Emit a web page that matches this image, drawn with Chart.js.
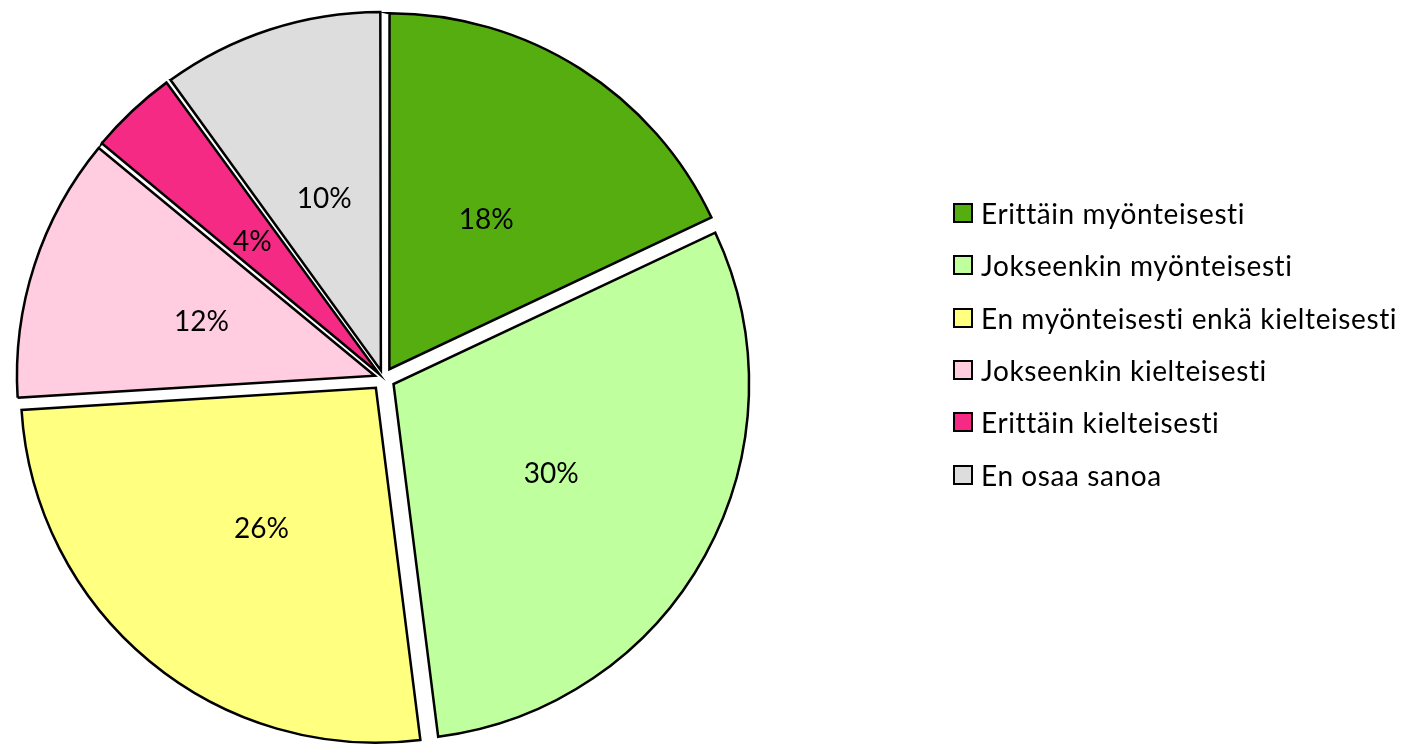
<!DOCTYPE html>
<html>
<head>
<meta charset="utf-8">
<script src="https://cdn.jsdelivr.net/npm/chart.js@4/dist/chart.umd.min.js"></script>
<style>
  html, body { margin: 0; padding: 0; background: #fff; }
  #wrap { position: relative; width: 1405px; height: 748px; overflow: hidden; }
  #c { position: absolute; left: 0; top: 0; }
  #legend { position: absolute; left: 953px; top: 0; font-family: Lato, "Noto Sans", sans-serif; font-size: 28px; letter-spacing: 0.6px; color: #000; }
  .row { position: absolute; left: 0; display: flex; align-items: center; white-space: nowrap; height: 30px; }
  .box { width: 20px; height: 20px; box-sizing: border-box; border: 2px solid #000; margin-right: 8px; flex: none; }
</style>
</head>
<body>
<div id="wrap">
  <canvas id="c" width="1405" height="748"></canvas>
  <div id="legend"></div>
</div>
<script>
// ---- data ----
const categories = [
  "Erittäin myönteisesti",
  "Jokseenkin myönteisesti",
  "En myönteisesti enkä kielteisesti",
  "Jokseenkin kielteisesti",
  "Erittäin kielteisesti",
  "En osaa sanoa"
];
const values = [18, 30, 26, 12, 4, 10];
const valueLabels = ["18%", "30%", "26%", "12%", "4%", "10%"];
const colors = ["#56AD0F", "#C0FF9D", "#FFFF80", "#FFCCE0", "#F42A84", "#DDDDDD"];

// ---- layout constants ----
const EXPLODE = 12;      // px each slice is pulled out
const RADIUS = 355;
const FONT = "Lato, 'Noto Sans', sans-serif";

// Chart.js translates an arc by offset/4*(1+fix); compensate so every slice moves EXPLODE px
function offsetFor(ctx) {
  const total = values.reduce((a, b) => a + b, 0);
  const v = ctx.dataset.data[ctx.dataIndex];
  const circ = (v / total) * Math.PI * 2;
  const fix = 1 - Math.sin(Math.min(Math.PI, circ));
  return EXPLODE * 4 / (1 + fix);
}

const labelPlugin = {
  id: 'sliceLabels',
  afterDatasetsDraw(chart) {
    const ctx = chart.ctx;
    const meta = chart.getDatasetMeta(0);
    ctx.save();
    ctx.font = "28px " + FONT;
    ctx.fillStyle = "#000";
    ctx.textAlign = "center";
    ctx.textBaseline = "middle";
    meta.data.forEach((arc, i) => {
      const p = arc.getProps(['x', 'y', 'startAngle', 'endAngle', 'outerRadius'], true);
      const mid = (p.startAngle + p.endAngle) / 2;
      const d = p.outerRadius * 0.5 + EXPLODE + 2;
      ctx.fillText(valueLabels[i], p.x + Math.cos(mid) * d, p.y + Math.sin(mid) * d + 3);
    });
    ctx.restore();
  }
};

new Chart(document.getElementById('c'), {
  type: 'pie',
  data: {
    labels: categories,
    datasets: [{
      data: values,
      backgroundColor: colors,
      borderColor: '#000',
      borderWidth: 2.5,
      borderJoinStyle: 'miter',
      offset: offsetFor
    }]
  },
  options: {
    responsive: false,
    devicePixelRatio: 1,
    animation: false,
    radius: RADIUS,
    layout: { padding: { left: 0, right: 638, top: 9, bottom: 0 } },
    plugins: {
      legend: { display: false },
      tooltip: { enabled: false }
    }
  },
  plugins: [labelPlugin]
});

// legend (HTML, built from the same arrays)
const legend = document.getElementById('legend');
const rowCenters0 = 212.7, rowStep = 52.4;
categories.forEach((c, i) => {
  const row = document.createElement('div');
  row.className = 'row';
  row.style.top = (rowCenters0 + i * rowStep - 15) + 'px';
  const box = document.createElement('div');
  box.className = 'box';
  box.style.background = colors[i];
  const t = document.createElement('span');
  t.textContent = c;
  row.appendChild(box);
  row.appendChild(t);
  legend.appendChild(row);
});
</script>
</body>
</html>
